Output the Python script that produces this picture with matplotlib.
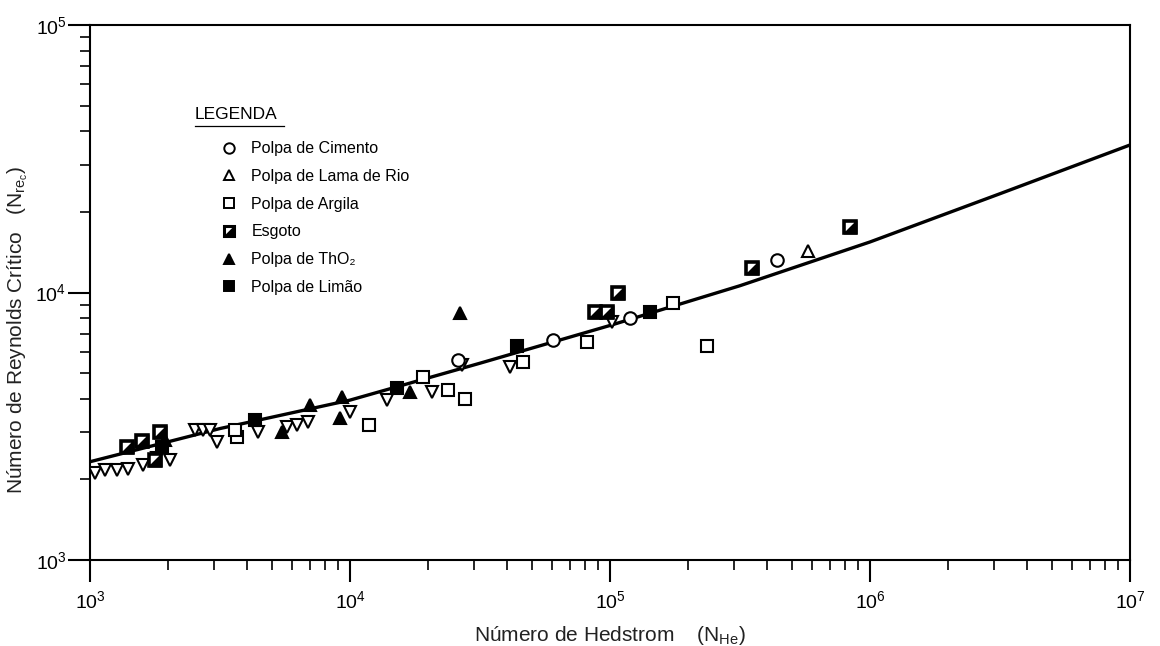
import matplotlib
matplotlib.use("Agg")
import matplotlib.pyplot as plt
from matplotlib.lines import Line2D

plt.rcParams['font.family'] = ['Liberation Sans', 'DejaVu Sans']

# curva de correlacao (N_He x N_Re critico)
curve_x = [1e3, 3.16e3, 1e4, 3.16e4, 1e5, 3.16e5, 1e6, 3.16e6, 1e7]
curve_y = [2330, 3100, 3960, 5440, 7530, 10600, 15450, 23400, 35600]

# pontos experimentais
cimento_x = [2.60e4, 6.04e4, 1.19e5, 4.39e5]
cimento_y = [5600, 6640, 8040, 13230]

lama_x = [5.78e5]
lama_y = [14300]

argila_x = [1.18e4, 2.38e4, 2.77e4, 4.62e4, 8.17e4, 1.75e5, 2.36e5, 3670, 3610, 1.91e4]
argila_y = [3200, 4320, 4000, 5500, 6530, 9140, 6310, 2880, 3060, 4830]

esgoto_x = [1.07e5, 8.75e4, 9.73e4, 3.52e5, 8.38e5, 1390, 1585, 1860, 1780]
esgoto_y = [9960, 8450, 8450, 12350, 17580, 2640, 2790, 3010, 2366]

tho2_x = [2.65e4, 7020, 9310, 9150, 5470, 1940, 1.70e4]
tho2_y = [8380, 3790, 4060, 3400, 3010, 2810, 4250]

limao_x = [4.39e4, 1.43e5, 1.52e4, 1890, 4310]
limao_y = [6310, 8450, 4400, 2640, 3335]

# triangulos invertidos (sem legenda)
inv_x = [1045, 1142, 1270, 1400, 1600, 1810, 2030, 2535, 2720, 2895, 3080, 4430,
         5730, 6250, 6890, 1.0e4, 1.387e4, 2.065e4, 2.70e4, 4.12e4, 1.02e5]
inv_y = [2113, 2170, 2170, 2190, 2265, 2405, 2366, 3060, 3060, 3060, 2760, 3010,
         3140, 3200, 3280, 3570, 3960, 4250, 5360, 5270, 7760]

fig = plt.figure(figsize=(11.6, 6.46), dpi=100)
ax = fig.add_axes([90/1160, 1-560/646, 1040/1160, 535/646])

ms = 9
mew = 1.5
tri_half = [(-1, -1), (1, -1), (1, 1), (-1, -1)]

ax.plot(curve_x, curve_y, color='black', lw=2.4, zorder=2)

ax.plot(inv_x, inv_y, 'v', ms=ms, mfc='white', mec='black', mew=mew, ls='none', zorder=3)
ax.plot(cimento_x, cimento_y, 'o', ms=ms, mfc='white', mec='black', mew=mew, ls='none', zorder=3)
ax.plot(lama_x, lama_y, '^', ms=ms, mfc='white', mec='black', mew=mew, ls='none', zorder=3)
ax.plot(argila_x, argila_y, 's', ms=ms, mfc='white', mec='black', mew=mew, ls='none', zorder=3)
ax.plot(esgoto_x, esgoto_y, 's', ms=ms, mfc='white', mec='black', mew=2.6, ls='none', zorder=3)
ax.plot(esgoto_x, esgoto_y, marker=tri_half, ms=ms, mfc='black', mec='black', mew=1.0, ls='none', zorder=3)
ax.plot(tho2_x, tho2_y, '^', ms=ms, mfc='black', mec='black', mew=mew, ls='none', zorder=3)
ax.plot(limao_x, limao_y, 's', ms=ms, mfc='black', mec='black', mew=mew, ls='none', zorder=3)

ax.set_xscale('log')
ax.set_yscale('log')
ax.set_xlim(1e3, 1e7)
ax.set_ylim(1e3, 1e5)

for s in ax.spines.values():
    s.set_linewidth(1.5)
ax.tick_params(which='major', direction='out', length=16, width=1.5, labelsize=14, pad=6)
ax.tick_params(which='minor', direction='out', length=7, width=1.2)
ax.tick_params(axis='y', which='both', left=True, right=False)
ax.tick_params(axis='x', which='both', bottom=True, top=False)
ax.tick_params(axis='y', which='major', pad=1)

ax.set_xlabel(r"Número de Hedstrom    ($\mathregular{N_{He}}$)", fontsize=15, color='#222222', labelpad=8)
ax.set_ylabel(r"Número de Reynolds Crítico   ($\mathregular{N_{re_c}}$)", fontsize=15, color='#222222')
ax.yaxis.set_label_coords(-0.058, 0.43)

# legenda
ax.text(0.101, 0.832, "LEGENDA", transform=ax.transAxes, fontsize=12.5, va='center', ha='left')
ax.plot([0.101, 0.187], [0.812, 0.812], transform=ax.transAxes, color='black', lw=0.9)

sq_open = Line2D([], [], marker='s', ls='none', ms=7, mfc='white', mec='black', mew=2.2)
sq_half = Line2D([], [], marker=tri_half, ls='none', ms=7, mfc='black', mec='black', mew=0.8)
handles = [
    Line2D([], [], marker='o', ls='none', ms=7.5, mfc='white', mec='black', mew=1.4),
    Line2D([], [], marker='^', ls='none', ms=7, mfc='white', mec='black', mew=1.4),
    Line2D([], [], marker='s', ls='none', ms=7, mfc='white', mec='black', mew=1.4),
    (sq_open, sq_half),
    Line2D([], [], marker='^', ls='none', ms=7, mfc='black', mec='black', mew=1.4),
    Line2D([], [], marker='s', ls='none', ms=7, mfc='black', mec='black', mew=1.4),
]
labels = ["Polpa de Cimento", "Polpa de Lama de Rio", "Polpa de Argila", "Esgoto",
          "Polpa de ThO\u2082", "Polpa de Limão"]
ax.legend(handles, labels, loc='upper left', bbox_to_anchor=(0.126, 0.783), frameon=False,
          fontsize=11.5, handlelength=1.0, handletextpad=0.9, labelspacing=0.8,
          borderaxespad=0, borderpad=0)

fig.savefig("out.png", dpi=100, facecolor='white')
